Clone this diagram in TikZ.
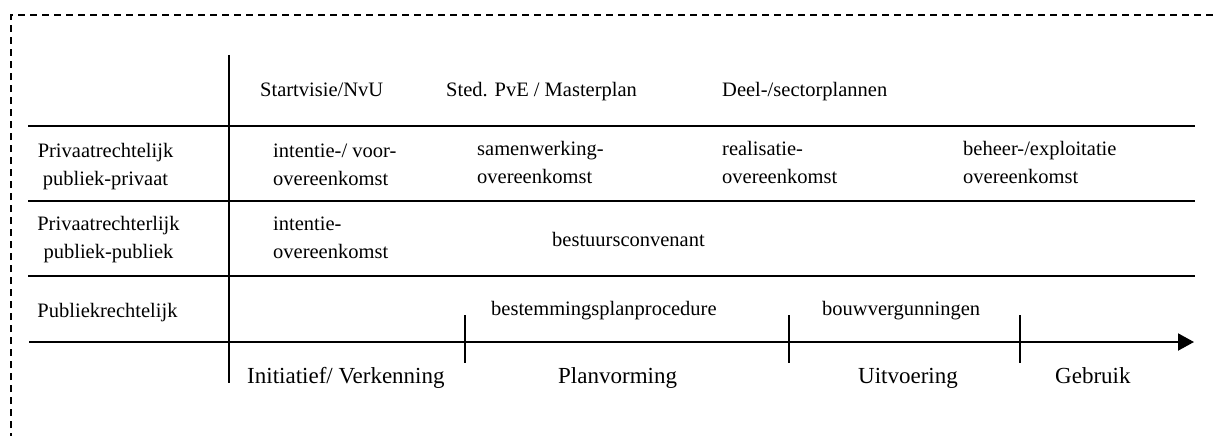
\documentclass[tikz,border=0pt]{standalone}
\usepackage{fontspec}
\setmainfont{Liberation Serif}
\usetikzlibrary{arrows.meta}
\begin{document}
\begin{tikzpicture}[x=1pt,y=-1pt,
  rule/.style={line width=2pt,black},
  frame/.style={line width=1.3pt,dash pattern=on 7pt off 5pt},
  lbl/.style={inner sep=0pt,anchor=base west,font=\fontsize{20.5}{20.5}\selectfont},
  cat/.style={inner sep=0pt,anchor=base,font=\fontsize{20.5}{20.5}\selectfont},
  phase/.style={inner sep=0pt,anchor=base west,font=\fontsize{23}{23}\selectfont}]
\useasboundingbox (0,0) rectangle (1215,436);
% dashed frame (open to the right and bottom)
\draw[frame] (11,440) -- (11,15) -- (1220,15);
% grid
\coordinate (vtop) at (229,55);
\coordinate (vbot) at (229,383);
\draw[rule] (vtop) -- (vbot);
\coordinate (h1a) at (28,126); \coordinate (h1b) at (1195,126);
\coordinate (h2a) at (28,201); \coordinate (h2b) at (1195,201);
\coordinate (h3a) at (28,276); \coordinate (h3b) at (1195,276);
\draw[rule] (h1a) -- (h1b);
\draw[rule] (h2a) -- (h2b);
\draw[rule] (h3a) -- (h3b);
% time axis
\coordinate (axa) at (29,342); \coordinate (axb) at (1194,342);
\draw[rule,-{Triangle[length=16pt,width=17pt]}] (axa) -- (axb);
\foreach \n/\x in {t1/464.5,t2/789,t3/1019.5}{
  \coordinate (\n a) at (\x,315); \coordinate (\n b) at (\x,363);
  \draw[rule] (\n a) -- (\n b);
}
% header row
\node[lbl] (sv) at (260,96) {Startvisie/NvU};
\node[lbl] (pve) at (446,96) {Sted. PvE / Masterplan};
\node[lbl] (dsp) at (722,96) {Deel-/sectorplannen};
% row 1
\node[cat] (c1a) at (105.5,157) {Privaatrechtelijk};
\node[cat] (c1b) at (105.5,185) {publiek-privaat};
\node[lbl] (r1a1) at (273,157) {intentie-/ voor-};
\node[lbl] (r1a2) at (273,185) {overeenkomst};
\node[lbl] (r1b1) at (477,155) {samenwerking-};
\node[lbl] (r1b2) at (477,183) {overeenkomst};
\node[lbl] (r1c1) at (722,155) {realisatie-};
\node[lbl] (r1c2) at (722,183) {overeenkomst};
\node[lbl] (r1d1) at (963,155) {beheer-/exploitatie};
\node[lbl] (r1d2) at (963,183) {overeenkomst};
% row 2
\node[cat] (c2a) at (108.5,230) {Privaatrechterlijk};
\node[cat] (c2b) at (108.5,258) {publiek-publiek};
\node[lbl] (r2a1) at (273,230) {intentie-};
\node[lbl] (r2a2) at (273,258) {overeenkomst};
\node[lbl] (r2b) at (552,246) {bestuursconvenant};
% row 3
\node[cat] (c3) at (107.5,317) {Publiekrechtelijk};
\node[lbl] (r3a) at (491,315) {bestemmingsplanprocedure};
\node[lbl] (r3b) at (822,315) {bouwvergunningen};
% phases
\node[phase] (p1) at (247,383) {Initiatief/ Verkenning};
\node[phase] (p2) at (558,383) {Planvorming};
\node[phase] (p3) at (858,383) {Uitvoering};
\node[phase] (p4) at (1055,383) {Gebruik};
\end{tikzpicture}
\end{document}
